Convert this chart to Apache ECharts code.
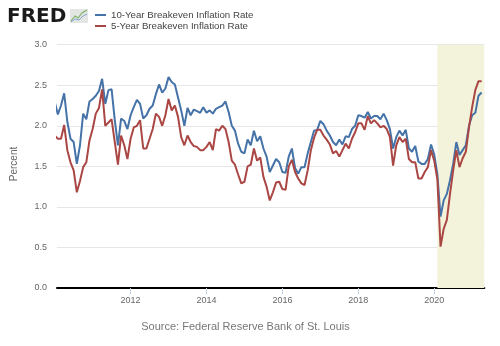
<!DOCTYPE html>
<html><head><meta charset="utf-8">
<script src="https://cdn.jsdelivr.net/npm/echarts@6/dist/echarts.min.js"></script>
<style>html,body{margin:0;padding:0;background:#fff}#c{width:500px;height:346px}</style>
</head><body><div id="c"></div>
<script>
// Monthly observations, Jan 2010 .. Apr 2021
const startYear = 2010, startMonth = 1, monthCount = 136;
const tenYear = [
2.30,2.14,2.25,2.40,2.05,1.84,1.80,1.53,1.76,2.15,2.08,2.30,
2.33,2.37,2.43,2.58,2.27,2.44,2.45,2.07,1.76,2.09,2.06,1.96,
2.13,2.23,2.32,2.27,2.09,2.13,2.21,2.25,2.39,2.51,2.41,2.46,
2.60,2.54,2.51,2.35,2.19,2.00,2.22,2.13,2.20,2.18,2.16,2.23,
2.16,2.19,2.15,2.21,2.23,2.25,2.30,2.17,2.00,1.94,1.78,1.68,
1.66,1.83,1.76,1.94,1.81,1.87,1.72,1.62,1.43,1.51,1.59,1.55,
1.43,1.42,1.62,1.72,1.48,1.41,1.49,1.49,1.66,1.80,1.94,1.95,
2.06,2.02,1.94,1.88,1.80,1.76,1.83,1.77,1.87,1.86,1.96,2.00,
2.13,2.12,2.10,2.17,2.09,2.12,2.12,2.08,2.15,2.07,1.96,1.72,
1.86,1.94,1.88,1.95,1.72,1.68,1.75,1.56,1.53,1.53,1.59,1.77,
1.65,1.40,0.88,1.08,1.16,1.33,1.53,1.80,1.64,1.70,1.76,2.00,
2.13,2.16,2.37,2.41];
const fiveYear = [
1.88,1.84,1.84,2.01,1.70,1.55,1.45,1.18,1.32,1.49,1.55,1.82,
1.96,2.15,2.22,2.45,2.00,2.04,2.08,1.80,1.52,1.88,1.76,1.59,
1.84,1.98,2.00,2.07,1.72,1.72,1.84,1.96,2.15,2.11,2.00,2.13,
2.33,2.19,2.25,2.11,1.86,1.76,1.88,1.80,1.75,1.74,1.70,1.70,
1.74,1.80,1.70,1.96,1.94,2.00,1.96,1.80,1.57,1.52,1.40,1.29,
1.31,1.50,1.52,1.72,1.57,1.61,1.37,1.25,1.08,1.18,1.30,1.31,
1.22,1.21,1.50,1.58,1.43,1.35,1.29,1.27,1.45,1.70,1.85,1.95,
1.95,1.88,1.83,1.77,1.66,1.69,1.62,1.70,1.78,1.72,1.84,1.92,
2.03,2.03,1.95,2.12,2.03,2.07,2.03,1.98,2.00,1.96,1.86,1.51,
1.76,1.86,1.80,1.84,1.59,1.55,1.55,1.35,1.35,1.43,1.49,1.70,
1.57,1.34,0.51,0.73,0.84,1.16,1.45,1.70,1.49,1.60,1.68,1.98,
2.23,2.44,2.55,2.55];
const seriesNames = ['10-Year Breakeven Inflation Rate', '5-Year Breakeven Inflation Rate'];
const xTickLabels = [2012, 2014, 2016, 2018, 2020];
const yTicks = [0, 0.5, 1.0, 1.5, 2.0, 2.5, 3.0];
const recession = [2020 + 1/12, 2021.32]; // Feb 2020 onward (shaded)

const xs = [];
for (let i = 0; i < monthCount; i++) {
  const mi = startMonth - 1 + i;
  xs.push(startYear + Math.floor(mi / 12) + (mi % 12) / 12);
}
const pairs = arr => arr.map((v, i) => [xs[i], v]);

const chart = echarts.init(document.getElementById('c'), null, {renderer: 'canvas'});
const font = 'Liberation Sans, Arial, sans-serif';
chart.setOption({
  animation: false,
  backgroundColor: '#ffffff',
  textStyle: {fontFamily: font},
  grid: {left: 57, right: 15.7, top: 44.7, bottom: 58, containLabel: false},
  legend: {
    data: seriesNames, orient: 'vertical', left: 95, top: 9.5, padding: 0,
    itemWidth: 11, itemHeight: 2, itemGap: 0, icon: 'rect',
    textStyle: {fontSize: 9.7, lineHeight: 11, color: '#444', fontFamily: font}
  },
  xAxis: {
    type: 'value', min: 2010.061, max: 2021.32,
    axisLine: {onZero: true, lineStyle: {color: '#000', width: 2}},
    axisTick: {show: true, length: 6, customValues: xTickLabels, lineStyle: {color: '#c0d0e0'}},
    axisLabel: {customValues: xTickLabels, formatter: v => String(Math.round(v)), fontSize: 9, color: '#666', margin: 8, fontFamily: font},
    splitLine: {show: false}
  },
  yAxis: {
    type: 'value', min: yTicks[0], max: yTicks[yTicks.length - 1], interval: 0.5,
    axisLine: {show: false}, axisTick: {show: false},
    axisLabel: {formatter: v => v.toFixed(1), fontSize: 9, color: '#666', margin: 10, fontFamily: font},
    splitLine: {lineStyle: {color: '#e6e6e6', width: 1}}
  },
  graphic: [
    {type: 'text', x: 7, y: 16.5, style: {text: 'FRED', font: 'bold 20px DejaVu Sans, sans-serif', fill: '#1a1a1a', textVerticalAlign: 'middle'}},
    {type: 'rect', shape: {x: 70, y: 9, width: 18, height: 14}, style: {fill: '#e4e6e4'}},
    {type: 'polyline', shape: {points: [[71,21],[75,16],[78,18],[82,13],[87,10]]}, style: {stroke: '#7fb36a', lineWidth: 1.2, fill: null}},
    {type: 'polyline', shape: {points: [[71,22],[75,19],[79,20],[83,16],[87,14]]}, style: {stroke: '#7fa6cf', lineWidth: 1, fill: null}},
    {type: 'text', x: 14, y: 164, rotation: Math.PI / 2,
     style: {text: 'Percent', font: '10px ' + font, fill: '#666', textAlign: 'center', textVerticalAlign: 'middle'}},
    {type: 'text', x: 245.5, y: 326.7,
     style: {text: 'Source: Federal Reserve Bank of St. Louis', font: '11px ' + font, fill: '#777', textAlign: 'center', textVerticalAlign: 'middle'}}
  ],
  series: [
    {name: 'recession', type: 'line', data: [], silent: true,
     markArea: {silent: true, itemStyle: {color: '#f3f2da'}, data: [[{xAxis: recession[0]}, {xAxis: recession[1]}]]}},
    {name: seriesNames[0], type: 'line', data: pairs(tenYear), showSymbol: false, symbol: 'none',
     lineStyle: {color: '#4572a7', width: 2}, itemStyle: {color: '#4572a7'}},
    {name: seriesNames[1], type: 'line', data: pairs(fiveYear), showSymbol: false, symbol: 'none',
     lineStyle: {color: '#aa4643', width: 2}, itemStyle: {color: '#aa4643'}}
  ]
});
</script></body></html>
